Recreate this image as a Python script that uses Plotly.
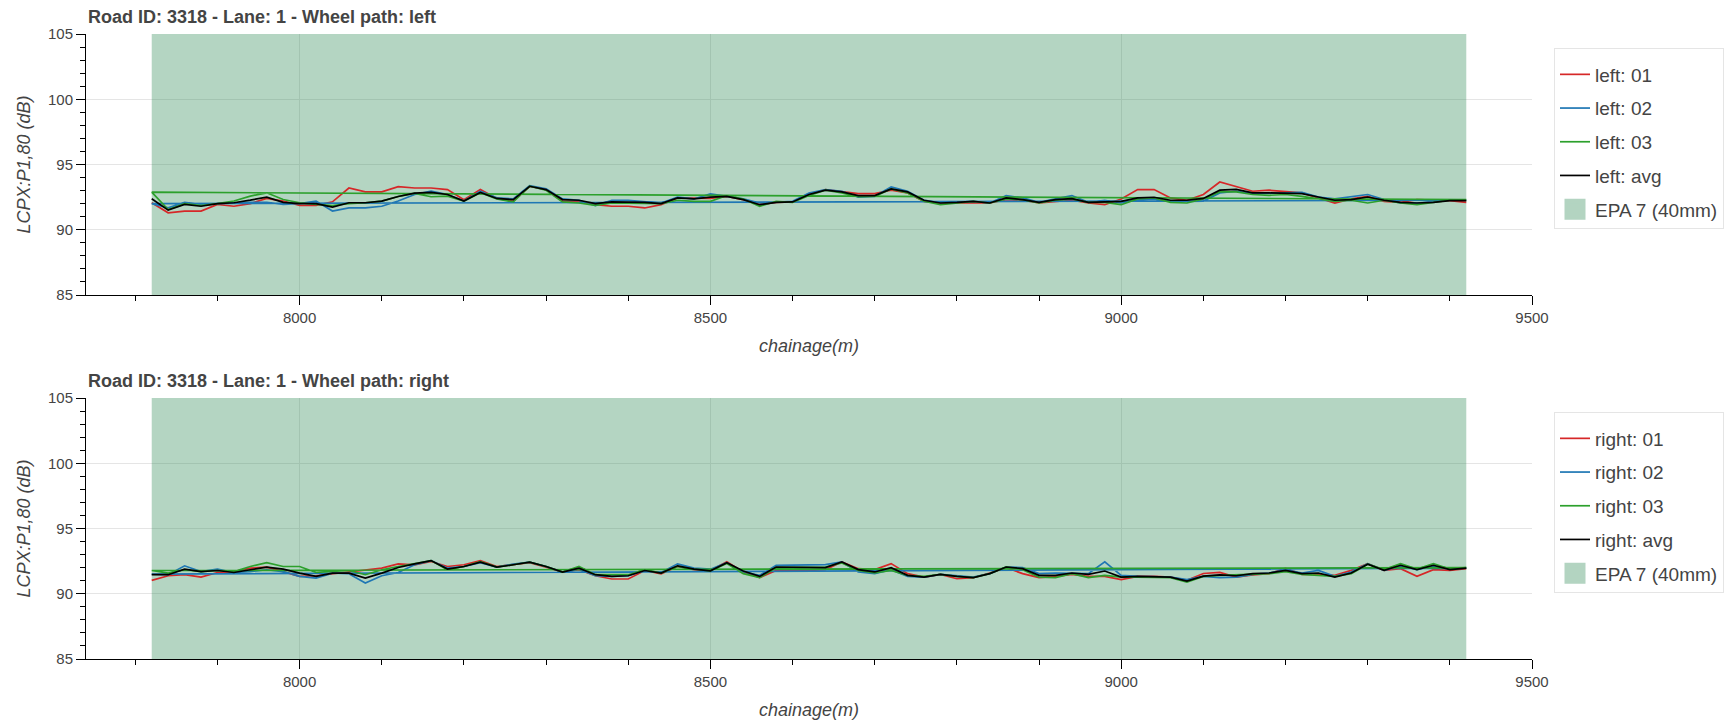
import plotly.graph_objects as go

# ---- data -------------------------------------------------------------
chainage = list(range(7820, 9421, 20))  # m, 81 stations

left_01 = [92.07, 91.30, 91.43, 91.43, 91.94, 91.80, 92.00, 92.40, 92.20, 91.86,
           91.86, 92.14, 93.20, 92.90, 92.90, 93.30, 93.20, 93.20, 93.08, 92.30,
           93.08, 92.40, 92.18, 93.33, 93.08, 92.18, 92.18, 91.92, 91.80, 91.80,
           91.67, 91.92, 92.44, 92.44, 92.40, 92.56, 92.31, 91.92, 92.10, 92.13,
           92.70, 93.08, 92.90, 92.77, 92.77, 93.03, 92.82, 92.18, 92.05, 92.05,
           92.10, 92.05, 92.31, 92.26, 92.05, 92.18, 92.26, 92.05, 91.92, 92.36,
           93.08, 93.08, 92.44, 92.26, 92.70, 93.66, 93.30, 92.95, 93.03, 92.90,
           92.82, 92.44, 92.05, 92.36, 92.56, 92.18, 92.10, 92.31, 92.26, 92.23,
           92.10]
left_02 = [92.00, 91.68, 92.10, 91.94, 92.00, 92.07, 92.10, 92.10, 91.94, 92.00,
           92.20, 91.43, 91.68, 91.68, 91.80, 92.20, 92.70, 92.96, 92.70, 92.20,
           92.96, 92.45, 92.36, 93.38, 93.13, 92.36, 92.26, 91.85, 92.26, 92.26,
           92.18, 92.05, 92.50, 92.36, 92.74, 92.56, 92.36, 92.05, 92.13, 92.18,
           92.82, 93.08, 92.95, 92.50, 92.56, 93.28, 92.95, 92.26, 92.10, 92.13,
           92.18, 92.05, 92.62, 92.44, 92.10, 92.36, 92.62, 92.10, 92.26, 92.05,
           92.31, 92.36, 92.18, 92.18, 92.20, 92.82, 92.95, 92.77, 92.77, 92.82,
           92.87, 92.51, 92.36, 92.51, 92.70, 92.31, 92.05, 92.05, 92.13, 92.26,
           92.26]
left_03 = [92.88, 91.55, 92.00, 91.86, 92.00, 92.20, 92.58, 92.83, 92.32, 92.07,
           91.94, 91.86, 92.00, 92.07, 92.20, 92.55, 92.78, 92.53, 92.58, 92.20,
           92.83, 92.37, 92.13, 93.33, 93.03, 92.13, 92.05, 91.87, 92.05, 92.05,
           92.05, 92.00, 92.26, 92.18, 92.18, 92.62, 92.36, 91.80, 92.18, 92.10,
           92.62, 93.03, 92.82, 92.51, 92.56, 93.13, 92.82, 92.18, 91.92, 92.05,
           92.18, 92.05, 92.36, 92.31, 92.05, 92.26, 92.36, 92.10, 92.10, 91.92,
           92.36, 92.44, 92.10, 92.05, 92.36, 92.90, 92.90, 92.70, 92.64, 92.70,
           92.56, 92.36, 92.18, 92.26, 92.05, 92.26, 92.05, 91.92, 92.10, 92.26,
           92.31]
left_avg = [92.37, 91.50, 91.94, 91.80, 92.00, 92.07, 92.27, 92.50, 92.10, 92.00,
            92.00, 91.73, 92.07, 92.07, 92.20, 92.55, 92.80, 92.86, 92.70, 92.20,
            92.86, 92.40, 92.31, 93.33, 93.08, 92.31, 92.26, 92.00, 92.13, 92.13,
            92.10, 92.00, 92.44, 92.36, 92.50, 92.56, 92.31, 91.92, 92.10, 92.13,
            92.70, 93.03, 92.90, 92.62, 92.62, 93.13, 92.90, 92.26, 92.05, 92.10,
            92.18, 92.05, 92.44, 92.31, 92.10, 92.31, 92.38, 92.10, 92.13, 92.18,
            92.44, 92.49, 92.26, 92.26, 92.40, 93.03, 93.10, 92.82, 92.82, 92.82,
            92.77, 92.51, 92.26, 92.31, 92.51, 92.26, 92.10, 92.05, 92.10, 92.23,
            92.23]

right_01 = [91.03, 91.38, 91.46, 91.28, 91.63, 91.70, 91.96, 92.04, 91.70, 91.33,
            91.38, 91.53, 91.70, 91.84, 91.96, 92.29, 92.22, 92.47, 92.09, 92.22,
            92.54, 92.09, 92.22, 92.39, 92.04, 91.66, 91.84, 91.38, 91.13, 91.13,
            91.78, 91.53, 92.09, 91.84, 91.79, 92.45, 91.67, 91.23, 91.79, 91.79,
            91.79, 91.85, 92.44, 91.92, 91.85, 92.31, 91.54, 91.28, 91.49, 91.15,
            91.23, 91.59, 92.00, 91.54, 91.23, 91.33, 91.49, 91.33, 91.33, 91.08,
            91.33, 91.33, 91.28, 91.03, 91.55, 91.63, 91.28, 91.45, 91.54, 91.95,
            91.49, 91.46, 91.41, 91.79, 92.31, 91.79, 91.92, 91.33, 91.85, 91.79,
            91.92]
right_02 = [91.50, 91.46, 92.14, 91.70, 91.89, 91.63, 91.70, 91.84, 91.70, 91.33,
            91.20, 91.58, 91.53, 90.82, 91.38, 91.63, 92.22, 92.54, 91.96, 92.09,
            92.39, 92.04, 92.27, 92.42, 92.09, 91.66, 91.89, 91.38, 91.33, 91.38,
            91.78, 91.63, 92.29, 91.96, 91.88, 92.38, 91.67, 91.41, 92.18, 92.18,
            92.23, 92.23, 92.44, 91.67, 91.54, 91.85, 91.33, 91.28, 91.49, 91.41,
            91.28, 91.54, 92.05, 92.00, 91.54, 91.59, 91.59, 91.54, 92.44, 91.41,
            91.33, 91.28, 91.28, 91.08, 91.33, 91.23, 91.28, 91.49, 91.59, 91.85,
            91.59, 91.79, 91.33, 91.67, 92.31, 91.79, 92.10, 91.85, 92.10, 91.92,
            91.97]
right_03 = [91.78, 91.58, 91.84, 91.70, 91.78, 91.70, 92.09, 92.39, 92.09, 92.09,
            91.63, 91.70, 91.78, 91.46, 91.84, 92.09, 92.34, 92.54, 91.84, 92.09,
            92.47, 92.04, 92.22, 92.42, 92.09, 91.66, 92.09, 91.46, 91.46, 91.46,
            91.84, 91.58, 92.09, 91.89, 91.76, 92.32, 91.54, 91.23, 92.00, 92.00,
            92.00, 92.05, 92.36, 91.79, 91.59, 91.79, 91.41, 91.33, 91.49, 91.33,
            91.23, 91.54, 92.05, 91.85, 91.28, 91.23, 91.54, 91.23, 91.41, 91.28,
            91.28, 91.28, 91.23, 90.90, 91.33, 91.41, 91.45, 91.49, 91.54, 91.70,
            91.49, 91.41, 91.33, 91.54, 92.26, 91.85, 92.31, 91.90, 92.31, 91.90,
            92.00]
right_avg = [91.46, 91.46, 91.89, 91.70, 91.78, 91.63, 91.84, 92.04, 91.89, 91.58,
             91.33, 91.58, 91.58, 91.20, 91.58, 92.01, 92.29, 92.54, 91.89, 92.09,
             92.42, 92.04, 92.22, 92.42, 92.09, 91.66, 91.96, 91.46, 91.33, 91.38,
             91.78, 91.58, 92.14, 91.89, 91.76, 92.37, 91.74, 91.33, 92.05, 92.05,
             92.00, 92.00, 92.44, 91.85, 91.67, 92.00, 91.41, 91.28, 91.49, 91.33,
             91.23, 91.54, 92.05, 91.92, 91.41, 91.41, 91.59, 91.49, 91.74, 91.28,
             91.33, 91.28, 91.28, 90.97, 91.35, 91.45, 91.38, 91.54, 91.59, 91.79,
             91.54, 91.59, 91.28, 91.59, 92.26, 91.79, 92.18, 91.85, 92.18, 91.85,
             91.97]

run_labels = ["01", "02", "03", "avg"]
epa_label = "EPA 7 (40mm)"
titles = ["Road ID: 3318 - Lane: 1 - Wheel path: left",
          "Road ID: 3318 - Lane: 1 - Wheel path: right"]
x_title = "chainage(m)"
y_title = "LCPX:P1,80 (dB)"
x_range = [7740, 9500]
y_range = [85, 105]

# ---- styling ----------------------------------------------------------
W, H = 1724, 723
FONT = "Liberation Sans, Arial, Helvetica, sans-serif"
TXT = "#444444"
GRID = "#e5e5e5"
RUN_COLORS = {"01": "#d62728", "02": "#1f77b4", "03": "#2ca02c", "avg": "#000000"}
EPA_FILL = "rgba(46,139,87,0.36)"
EPA_SWATCH = "#b3d4c1"

# pixel frames of the two panels (left, right, top, bottom)
PANELS = [(86, 1532, 34, 295), (86, 1532, 398, 659)]
LEGEND_TOPS = [48, 412]


def px_x(p):
    return p / W


def px_y(p):
    return 1 - p / H


fig = go.Figure()

paths = [("left", [left_01, left_02, left_03, left_avg]),
         ("right", [right_01, right_02, right_03, right_avg])]

for k, (side, series) in enumerate(paths):
    xa = "x" if k == 0 else "x2"
    ya = "y" if k == 0 else "y2"
    lg = "legend" if k == 0 else "legend2"

    # EPA section band, spanning the full height of the panel
    c0, c1 = chainage[0], chainage[-1]
    fig.add_trace(go.Scatter(
        x=[c0, c0, c1, c1, c0], y=[y_range[0], y_range[1], y_range[1], y_range[0], y_range[0]],
        mode="none", fill="toself", fillcolor=EPA_FILL, showlegend=False,
        hoverinfo="skip", xaxis=xa, yaxis=ya))

    for lab, vals in zip(run_labels, series):
        xs, ys = list(chainage), list(vals)
        if lab in ("02", "03"):
            # these runs close back onto their first station
            xs, ys = xs + xs[:1], ys + ys[:1]
        fig.add_trace(go.Scatter(
            x=xs, y=ys, mode="lines", name=f"{side}: {lab}",
            line=dict(color=RUN_COLORS[lab], width=1.7),
            xaxis=xa, yaxis=ya, legend=lg, legendgroup=f"{side}{lab}",
            hoverinfo="skip"))

    # legend swatch for the EPA section
    fig.add_trace(go.Scatter(
        x=[None], y=[None], mode="markers", name=epa_label,
        marker=dict(symbol="square", size=16, color=EPA_SWATCH,
                    line=dict(color=EPA_SWATCH, width=5)),
        xaxis=xa, yaxis=ya, legend=lg, legendgroup=f"{side}epa"))

axis_common = dict(
    showline=True, linecolor="black", linewidth=1,
    ticks="outside", ticklen=9, tickcolor="black", tickwidth=1,
    showgrid=True, gridcolor=GRID, gridwidth=1, zeroline=False,
    tickfont=dict(family=FONT, size=15, color=TXT),
)

layout_axes = {}
for k, (l, r, t, b) in enumerate(PANELS):
    sx = "" if k == 0 else "2"
    layout_axes[f"xaxis{sx}"] = dict(
        axis_common, domain=[px_x(l), px_x(r)], range=x_range,
        anchor=f"y{sx}", tick0=0, dtick=500,
        minor=dict(dtick=100, ticks="outside", ticklen=5, tickcolor="black",
                   showgrid=False),
        title=dict(text=x_title, standoff=14,
                   font=dict(family=FONT, size=18, color=TXT, style="italic")),
    )
    layout_axes[f"yaxis{sx}"] = dict(
        axis_common, domain=[px_y(b), px_y(t)], range=y_range,
        anchor=f"x{sx}", tick0=0, dtick=5,
        minor=dict(dtick=1, ticks="outside", ticklen=5, tickcolor="black",
                   showgrid=False),
        title=dict(text=y_title, standoff=12,
                   font=dict(family=FONT, size=18, color=TXT, style="italic")),
    )

legend_common = dict(
    xanchor="left", yanchor="top", bgcolor="white",
    bordercolor=GRID, borderwidth=1, traceorder="grouped", tracegroupgap=6,
    font=dict(family=FONT, size=19, color=TXT), itemwidth=30,
    title=dict(text="\u00a0", font=dict(family=FONT, size=5)),
)

annotations = []
for k, (l, r, t, b) in enumerate(PANELS):
    annotations.append(dict(
        text=f"<b>{titles[k]}</b>", xref="paper", yref="paper",
        x=px_x(l), y=px_y(t - 17), xanchor="left", yanchor="middle",
        showarrow=False, font=dict(family=FONT, size=18, color=TXT)))

fig.update_layout(
    width=W, height=H, margin=dict(l=0, r=0, t=0, b=0, autoexpand=False),
    paper_bgcolor="white", plot_bgcolor="white",
    font=dict(family=FONT, color=TXT),
    legend=dict(legend_common, x=px_x(1554), y=px_y(LEGEND_TOPS[0])),
    legend2=dict(legend_common, x=px_x(1554), y=px_y(LEGEND_TOPS[1])),
    annotations=annotations,
    **layout_axes,
)

fig.write_html("out.html")
